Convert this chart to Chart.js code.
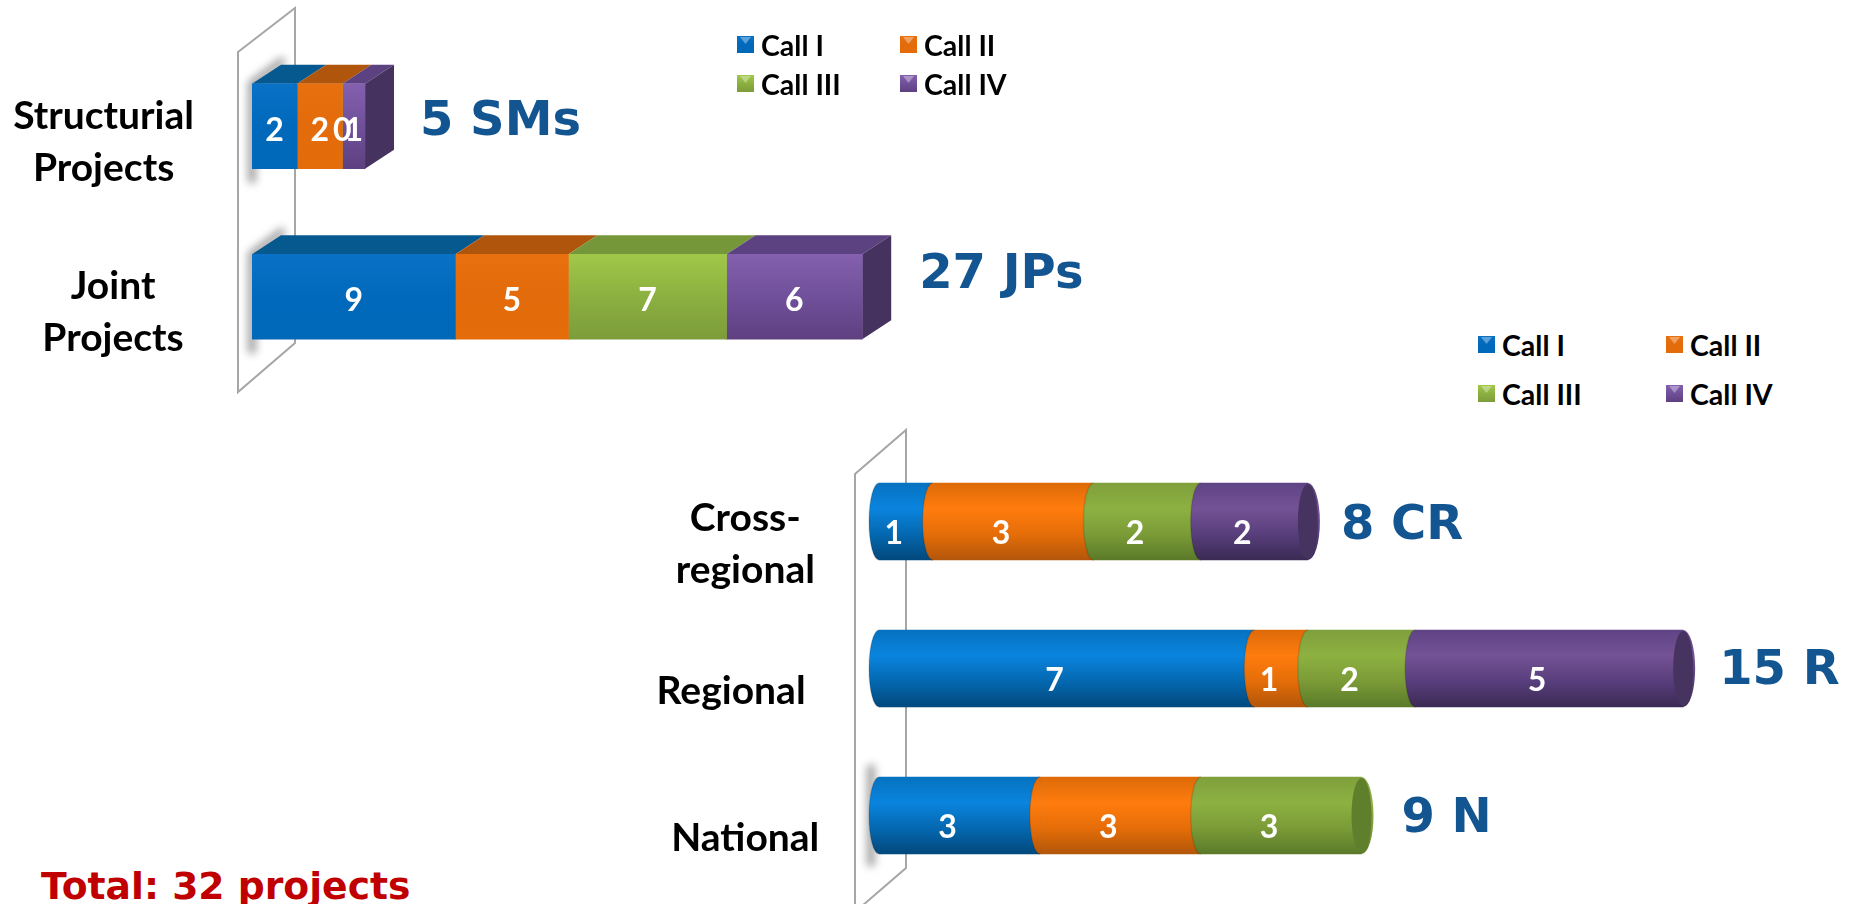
<!DOCTYPE html>
<html>
<head>
<meta charset="utf-8">
<title>Projects per call</title>
<script src="https://cdn.jsdelivr.net/npm/chart.js@4/dist/chart.umd.min.js"></script>
<style>
    html, body { margin: 0; padding: 0; background: #fff; width: 1857px; height: 904px; overflow: hidden; }
    canvas { position: absolute; }
    #chartTop { left: 0; top: 0; }
    #chartBottom { left: 640px; top: 420px; }
    #total { position: absolute; left: 41px; top: 864px; font: bold 37.7px "DejaVu Sans"; color: #c00000; white-space: nowrap; }
    .legend { position: absolute; display: grid; font: bold 28.5px Lato; color: #000; }
    #legendTop { left: 737px; top: 25px; grid-template-columns: 163px 140px; grid-auto-rows: 39px; }
    #legendBottom { left: 1478px; top: 320px; grid-template-columns: 188px 140px; grid-auto-rows: 49px; }
    .legend div { display: flex; align-items: center; gap: 7px; }
    .legend i { position: relative; display: block; width: 17px; height: 17px; }
    .legend i::after { content: ""; position: absolute; left: 3px; top: 1px; width: 11px; height: 7px;
        background: rgba(255,255,255,.35); clip-path: polygon(0 0, 100% 0, 50% 100%); }
</style>
</head>
<body>
<canvas id="chartTop" width="1156" height="420"></canvas>
<canvas id="chartBottom" width="1217" height="484"></canvas>
<div id="legendTop" class="legend"></div>
<div id="legendBottom" class="legend"></div>
<div id="total">Total: 32 projects</div>

<script>
// Data
const seriesNames = ['Call I', 'Call II', 'Call III', 'Call IV'];

const topCategories = [['Structurial', 'Projects'], ['  Joint', '  Projects']];
const topCallI = [2, 9];
const topCallII = [2, 5];
const topCallIII = [0, 7];
const topCallIV = [1, 6];
const topTotals = ['5 SMs', '27 JPs'];

const bottomCategories = [['Cross-', 'regional'], 'Regional   ', 'National'];
const bottomCallI = [1, 7, 3];
const bottomCallII = [3, 1, 3];
const bottomCallIII = [2, 2, 3];
const bottomCallIV = [2, 5, null];
const bottomTotals = ['8 CR', '15 R', '9 N'];

// Colours: gradient stops per series
const boxFront = [
    ['#0a72c6', '#0069bb', '#0068b8'],
    ['#e8700e', '#e36b0b', '#e56c09'],
    ['#a0c848', '#8cb040', '#7c9c3a'],
    ['#8460ae', '#70509a', '#5e4080']
];
const boxTop = ['#05598f', '#b0560c', '#76963a', '#5c4280'];
const boxSide = ['#04466f', '#8a4308', '#5b752c', '#46325f'];

const tubeBody = [
    ['#0672c0', '#0a84de', '#0468b0', '#02487c'],
    ['#dd6a08', '#ff7c0e', '#e56d08', '#b2560a'],
    ['#7f9f3c', '#8db141', '#7b9b37', '#5b7a29'],
    ['#5f4485', '#745295', '#583e7c', '#3b2a54']
];
const tubeCap = ['#034a80', '#a8500a', '#5f7f2c', '#46335f'];

function verticalGradient(context, stops, thickness) {
    const chart = context.chart;
    const y = chart.scales.y;
    if (!y || context.dataIndex === undefined) return stops[0];
    const mid = y.getPixelForValue(context.dataIndex);
    // the scale has no pixels yet on the very first pass
    if (!Number.isFinite(mid)) return stops[0];
    const g = chart.ctx.createLinearGradient(0, mid - thickness / 2, 0, mid + thickness / 2);
    stops.forEach((c, i) => g.addColorStop(i / (stops.length - 1), c));
    return g;
}

function makeDatasets(values, stops, thickness) {
    return values.map((data, i) => ({
        label: seriesNames[i],
        data: data,
        barThickness: thickness,
        borderWidth: 0,
        backgroundColor: ctx => verticalGradient(ctx, stops[i], thickness)
    }));
}

// Rows of the two charts: for every category, the drawn segments
function visibleBars(chart, index) {
    const bars = [];
    chart.data.datasets.forEach((ds, d) => {
        const el = chart.getDatasetMeta(d).data[index];
        if (el && ds.data[index] !== null) bars.push({ el: el, d: d, value: ds.data[index] });
    });
    return bars;
}

// The thin glass wall behind the bars
const wallPlugin = {
    id: 'wall',
    beforeDatasetsDraw(chart, args, opts) {
        const a = chart.chartArea, c = chart.ctx;
        const l = a.left + opts.left, r = a.left + opts.right;
        c.save();
        // soft shadow where a bar meets the wall
        c.filter = 'blur(4px)';
        c.strokeStyle = 'rgba(110,110,110,.75)';
        c.lineWidth = 7;
        opts.shadowRows.forEach(i => {
            const el = chart.getDatasetMeta(0).data[i];
            const top = el.y - el.height / 2, bottom = el.y + el.height / 2;
            c.beginPath();
            c.moveTo(a.left + opts.shadowDx, bottom + opts.shadowBelow);
            c.lineTo(a.left + opts.shadowDx, top - opts.shadowAbove);
            c.lineTo(a.left + opts.shadowDx + opts.shadowReach, top - opts.shadowAbove - opts.shadowRise);
            c.stroke();
        });
        c.filter = 'none';
        c.strokeStyle = '#a6a6a6';
        c.lineWidth = 2;
        c.beginPath();
        c.moveTo(l, opts.yLeftTop);
        c.lineTo(r, opts.yRightTop);
        c.lineTo(r, opts.yRightBottom);
        c.lineTo(l, opts.yLeftBottom);
        c.closePath();
        c.stroke();
        c.restore();
    }
};

// Top and side faces of the box bars
const boxPlugin = {
    id: 'box',
    beforeDatasetsDraw(chart, args, opts) {
        if (!opts.dx) return;
        const c = chart.ctx, dx = opts.dx, dy = opts.dy;
        chart.data.labels.forEach((label, i) => {
            const bars = visibleBars(chart, i).filter(b => b.value > 0);
            bars.forEach(b => {
                const top = b.el.y - b.el.height / 2;
                c.fillStyle = boxTop[b.d];
                c.beginPath();
                c.moveTo(b.el.base, top);
                c.lineTo(b.el.x, top);
                c.lineTo(b.el.x + dx, top - dy);
                c.lineTo(b.el.base + dx, top - dy);
                c.closePath();
                c.fill();
            });
            const last = bars[bars.length - 1];
            const top = last.el.y - last.el.height / 2, bottom = last.el.y + last.el.height / 2;
            c.fillStyle = boxSide[last.d];
            c.beginPath();
            c.moveTo(last.el.x, top);
            c.lineTo(last.el.x + dx, top - dy);
            c.lineTo(last.el.x + dx, bottom - dy);
            c.lineTo(last.el.x, bottom);
            c.closePath();
            c.fill();
        });
    }
};

// Curved seams and end cap of the tube bars
const tubePlugin = {
    id: 'tube',
    afterDatasetsDraw(chart, args, opts) {
        if (!opts.rx) return;
        const c = chart.ctx, rx = opts.rx;
        chart.data.labels.forEach((label, i) => {
            const bars = visibleBars(chart, i);
            bars.forEach(b => {
                const half = b.el.height / 2;
                c.fillStyle = b.el.options.backgroundColor;
                c.beginPath();
                c.ellipse(b.el.base, b.el.y, rx, half, 0, Math.PI / 2, Math.PI * 1.5);
                c.lineTo(b.el.base + 1, b.el.y - half);
                c.lineTo(b.el.base + 1, b.el.y + half);
                c.closePath();
                c.fill();
                c.strokeStyle = 'rgba(0,0,0,.12)';
                c.lineWidth = 1.5;
                c.beginPath();
                c.ellipse(b.el.base, b.el.y, rx, half, 0, Math.PI / 2, Math.PI * 1.5);
                c.stroke();
            });
            const last = bars[bars.length - 1];
            c.fillStyle = last.el.options.backgroundColor;
            c.beginPath();
            c.ellipse(last.el.x, last.el.y, rx + 2, last.el.height / 2, 0, -Math.PI / 2, Math.PI / 2);
            c.fill();
            c.fillStyle = tubeCap[last.d];
            c.beginPath();
            c.ellipse(last.el.x, last.el.y, rx, last.el.height / 2 - 1, 0, 0, Math.PI * 2);
            c.fill();
        });
    }
};

// Value labels on the segments and the totals at the bar ends
const textPlugin = {
    id: 'barText',
    afterDraw(chart, args, opts) {
        const c = chart.ctx;
        c.save();
        c.textBaseline = 'middle';
        chart.data.labels.forEach((label, i) => {
            const bars = visibleBars(chart, i);
            c.font = 'bold 32px Lato';
            c.fillStyle = '#fff';
            c.textAlign = 'center';
            bars.forEach(b => {
                c.fillText(b.value, (b.el.base + b.el.x) / 2 + opts.valueDx, b.el.y + opts.valueDy);
            });
            const last = bars[bars.length - 1];
            c.font = opts.totalFont;
            c.fillStyle = '#125591';
            c.textAlign = 'left';
            c.fillText(opts.totals[i], last.el.x + opts.totalGap[i], last.el.y + opts.totalDy[i]);
        });
        c.restore();
    }
};

function createChart(id, categories, datasets, o) {
    return new Chart(document.getElementById(id), {
        type: 'bar',
        data: { labels: categories, datasets: datasets },
        plugins: [wallPlugin, boxPlugin, tubePlugin, textPlugin],
        options: {
            indexAxis: 'y',
            responsive: false,
            animation: false,
            layout: { padding: o.padding },
            scales: {
                x: { stacked: true, display: false, min: 0, max: o.max },
                y: {
                    stacked: true,
                    grid: { display: false },
                    border: { display: false },
                    afterFit: scale => {
                        scale.width = o.axisWidth;
                        // tall wrapped labels must not squeeze the bars
                        scale.paddingTop = 0;
                        scale.paddingBottom = 0;
                    },
                    ticks: {
                        color: '#000',
                        crossAlign: 'center',
                        padding: o.tickPadding,
                        labelOffset: o.labelOffset,
                        font: { family: 'Lato', weight: 'bold', size: 39, lineHeight: 1.33 }
                    }
                }
            },
            plugins: {
                legend: { display: false },
                tooltip: { enabled: false },
                wall: o.wall,
                box: o.box || {},
                tube: o.tube || {},
                barText: o.text
            }
        }
    });
}

function buildLegend(id, colors) {
    const box = document.getElementById(id);
    seriesNames.forEach((name, i) => {
        const item = document.createElement('div');
        const swatch = document.createElement('i');
        swatch.style.background = 'linear-gradient(' + colors[i].join(',') + ')';
        item.appendChild(swatch);
        item.appendChild(document.createTextNode(name));
        box.appendChild(item);
    });
}

createChart('chartTop', topCategories,
    makeDatasets([topCallI, topCallII, topCallIII, topCallIV], boxFront, 85), {
    padding: { top: 41, bottom: 38 },
    max: 40,
    axisWidth: 252,
    tickPadding: 50,
    labelOffset: 16,
    wall: {
        left: -14, right: 43, yLeftTop: 52, yRightTop: 8, yRightBottom: 343, yLeftBottom: 392,
        shadowRows: [0, 1], shadowDx: 0, shadowAbove: 0, shadowBelow: 14, shadowReach: 32, shadowRise: 24
    },
    box: { dx: 29, dy: 19 },
    text: {
        totals: topTotals, totalFont: 'bold 48px "DejaVu Sans"',
        totalGap: [55, 57], totalDy: [-4, -21], valueDx: 0, valueDy: 4
    }
});

createChart('chartBottom', bottomCategories,
    makeDatasets([bottomCallI, bottomCallII, bottomCallIII, bottomCallIV], tubeBody, 77), {
    padding: { top: 28, bottom: 15, right: 13 },
    max: 18,
    axisWidth: 239,
    tickPadding: 37,
    labelOffset: 23,
    wall: {
        left: -24, right: 27, yLeftTop: 54, yRightTop: 10, yRightBottom: 448, yLeftBottom: 492,
        shadowRows: [2], shadowDx: -8, shadowAbove: 12, shadowBelow: 12, shadowReach: 0, shadowRise: 0
    },
    tube: { rx: 10 },
    text: {
        totals: bottomTotals, totalFont: 'bold 48px "DejaVu Sans"',
        totalGap: [33, 36, 40], totalDy: [5, 3, 4], valueDx: -12, valueDy: 12
    }
});

buildLegend('legendTop', boxFront);
buildLegend('legendBottom', boxFront);
</script>
</body>
</html>
